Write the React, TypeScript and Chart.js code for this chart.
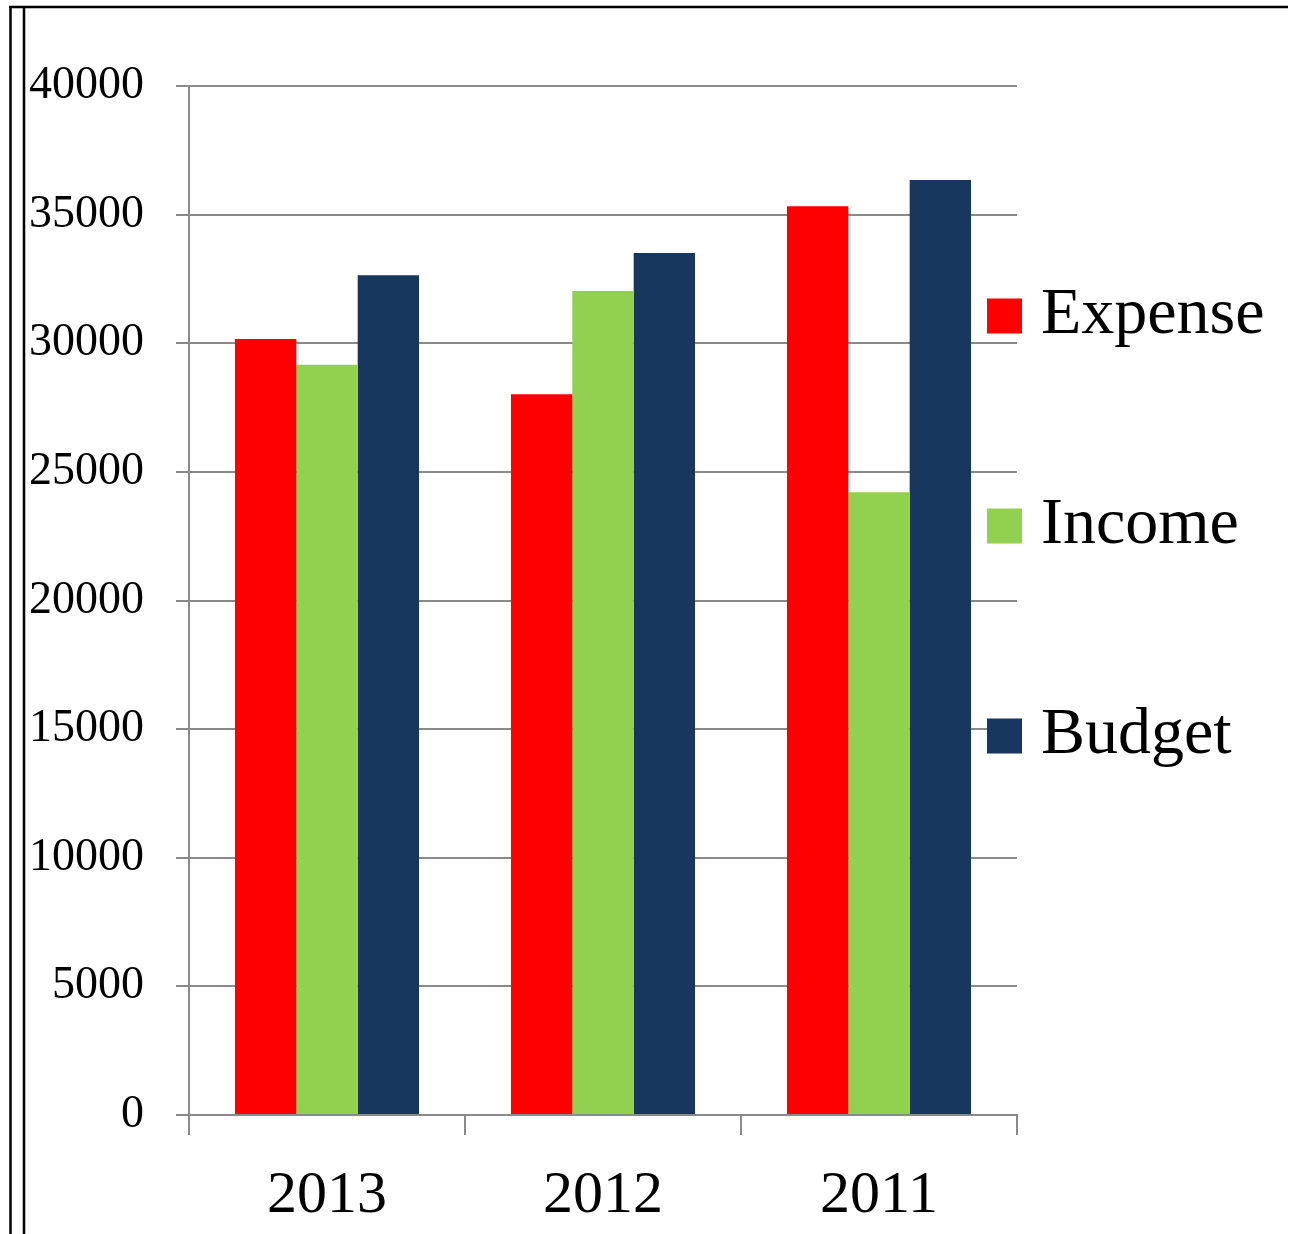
import React, { useEffect, useRef } from "react";
import { Chart, registerables } from "chart.js";

Chart.register(...registerables);

const categories = ["2013", "2012", "2011"];
const expense = [30170, 28020, 35330];
const income = [29160, 32030, 24210];
const budget = [32640, 33510, 36350];
const seriesNames = ["Expense", "Income", "Budget"];
const seriesColors = ["#FF0000", "#92D050", "#17375E"];

const FONT = "'Liberation Serif', 'Times New Roman', serif";
const GRID = "#8a8a8a";

const framePlugin = {
  id: "frame",
  beforeDraw(chart: any) {
    const ctx = chart.ctx;
    ctx.save();
    ctx.fillStyle = "#ffffff";
    ctx.fillRect(0, 0, chart.width, chart.height);
    ctx.strokeStyle = "#000000";
    ctx.lineWidth = 2.5;
    ctx.beginPath();
    ctx.moveTo(10.5, 6);
    ctx.lineTo(10.5, chart.height);
    ctx.stroke();
    ctx.lineWidth = 2.5;
    ctx.beginPath();
    ctx.moveTo(24, 8);
    ctx.lineTo(24, chart.height);
    ctx.stroke();
    ctx.lineWidth = 2.5;
    ctx.beginPath();
    ctx.moveTo(9, 7);
    ctx.lineTo(1288, 7);
    ctx.stroke();
    ctx.restore();
  },
};

const legendPlugin = {
  id: "customLegend",
  afterDraw(chart: any) {
    const ctx = chart.ctx;
    const area = chart.chartArea;
    const boxX = area.right - 30;
    const textX = area.right + 24;
    const box = 35;
    ctx.save();
    chart.data.datasets.forEach((ds: any, i: number) => {
      const cy = area.top + 230 + i * 210;
      ctx.fillStyle = ds.backgroundColor;
      ctx.fillRect(boxX, cy - box / 2, box, box);
      ctx.fillStyle = "#000000";
      ctx.font = `66px ${FONT}`;
      ctx.textAlign = "left";
      ctx.textBaseline = "alphabetic";
      ctx.fillText(ds.label, textX, cy + 17);
    });
    ctx.restore();
  },
};

export default function App() {
  const ref = useRef<HTMLCanvasElement | null>(null);

  useEffect(() => {
    if (!ref.current) return;
    const values = [expense, income, budget];
    const chart = new Chart(ref.current, {
      type: "bar",
      data: {
        labels: categories,
        datasets: seriesNames.map((name, i) => ({
          label: name,
          data: values[i],
          backgroundColor: seriesColors[i],
          borderWidth: 0,
          categoryPercentage: 0.667,
          barPercentage: 1.0,
        })),
      },
      options: {
        animation: false,
        responsive: true,
        maintainAspectRatio: false,
        devicePixelRatio: 1,
        layout: { padding: { left: 0, top: 86, right: 276, bottom: 0 } },
        plugins: {
          legend: { display: false },
          tooltip: { enabled: false },
        },
        scales: {
          x: {
            afterFit: (s: any) => {
              s.height = 119;
            },
            grid: {
              display: true,
              drawOnChartArea: false,
              drawTicks: true,
              tickLength: 20,
              color: GRID,
              lineWidth: 2,
              offset: true,
            },
            border: { display: true, color: GRID, width: 2 },
            ticks: {
              color: "#000000",
              font: { family: FONT, size: 60 },
              padding: 25,
              maxRotation: 0,
            },
          },
          y: {
            min: 0,
            max: 40000,
            afterFit: (s: any) => {
              s.width = 189;
            },
            grid: {
              color: GRID,
              lineWidth: 2,
              drawTicks: true,
              tickLength: 13,
            },
            border: { display: true, color: GRID, width: 2 },
            ticks: {
              stepSize: 5000,
              color: "#000000",
              font: { family: FONT, size: 46 },
              padding: 32,
              callback: (v: any) => String(v),
            },
          },
        },
      },
      plugins: [framePlugin, legendPlugin],
    });
    return () => chart.destroy();
  }, []);

  return (
    <div style={{ position: "absolute", left: 0, top: 0, width: 1293, height: 1234 }}>
      <canvas ref={ref} />
    </div>
  );
}
